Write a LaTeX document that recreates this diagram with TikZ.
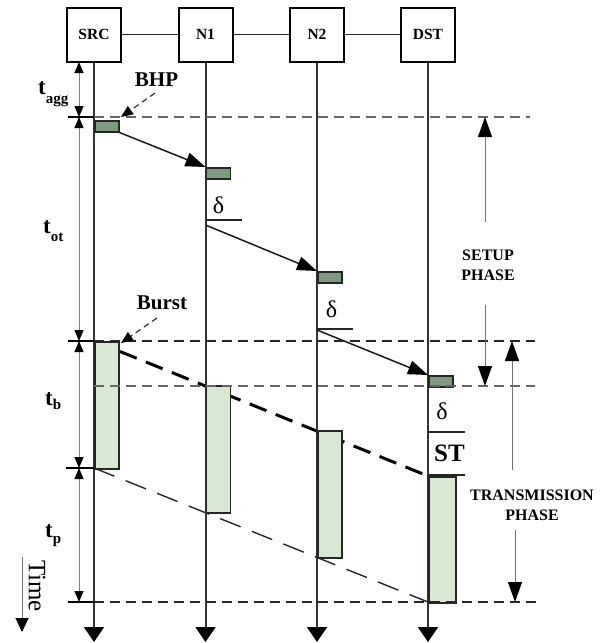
\documentclass[tikz,border=0pt]{standalone}
\usepackage{fontspec}
\setmainfont{Liberation Serif}
\usetikzlibrary{arrows.meta}
\definecolor{bhpfill}{RGB}{125,155,125}
\definecolor{burstfill}{RGB}{217,232,211}
\newcommand{\dimlab}[2]{{\fontsize{23}{23}\selectfont t}\raisebox{-#2pt}{\fontsize{15}{15}\selectfont #1}}
\begin{document}
\begin{tikzpicture}[x=1pt,y=-1pt,
  hostbox/.style={draw=black, line width=2pt, minimum width=54pt, minimum height=54pt, inner sep=0pt, font=\fontsize{15.5}{18}\selectfont\bfseries},
  link/.style={line width=1.5pt, draw=black!85},
  timeline/.style={line width=2pt, draw=black!80, -{Triangle[width=20pt,length=15pt,color=black]}},
  thindash/.style={draw=black!60, line width=1.2pt, dash pattern=on 10pt off 6pt},
  thickdash/.style={draw=black!85, line width=2pt, dash pattern=on 10pt off 6pt},
  tick/.style={draw=black, line width=1.5pt},
  dimline/.style={draw=black!50, line width=1pt, {Triangle[width=9pt,length=11pt,color=black]}-{Triangle[width=9pt,length=11pt,color=black]}},
  dimtext/.style={anchor=base west, inner sep=0pt, font=\bfseries},
  bhp/.style={draw=black!85, line width=1.5pt, fill=bhpfill, anchor=north west, minimum width=24pt, minimum height=11pt, inner sep=0pt},
  burst/.style={draw=black!85, line width=1.5pt, fill=burstfill, anchor=north west, minimum width=24pt, minimum height=127pt, inner sep=0pt},
  msg/.style={draw=black!90, line width=1.5pt, -{Triangle[width=14pt,length=20pt,color=black]}},
  lead/.style={draw=black, line width=3pt, dash pattern=on 18pt off 10pt},
  trail/.style={draw=black!85, line width=1.4pt, dash pattern=on 22pt off 12pt},
  pointer/.style={draw=black!80, line width=1.2pt, dash pattern=on 6pt off 4pt, -{Triangle[width=10pt,length=12pt,color=black]}},
  biglabel/.style={inner sep=0pt, font=\fontsize{21}{21}\selectfont\bfseries},
  deltalab/.style={inner sep=0pt, font=\fontsize{24}{24}\selectfont},
  sep/.style={draw=black!85, line width=1.5pt},
  phase/.style={inner sep=0pt, align=center, font=\fontsize{16}{20}\selectfont\bfseries},
  phasearrow/.style={draw=black!55, line width=1pt, -{Triangle[width=14pt,length=20pt,color=black]}},
  timearrow/.style={draw=black!55, line width=1pt, -{Triangle[width=13pt,length=14pt,color=black]}}
]
\useasboundingbox (0,0) rectangle (607,643);

% hosts
\node[hostbox] (SRC) at (94,34.5) {SRC};
\node[hostbox] (N1) at (205.5,34.5) {N1};
\node[hostbox] (N2) at (317,34.5) {N2};
\node[hostbox] (DST) at (428,34.5) {DST};
\draw[link] (SRC) -- (N1);
\draw[link] (N1) -- (N2);
\draw[link] (N2) -- (DST);

% burst edges
\coordinate (l0) at (94,341); \coordinate (l3) at (428,476);
\coordinate (r0) at (94,468); \coordinate (r3) at (428,602);
\draw[lead] (l0) -- (l3);
\draw[trail] (r0) -- (r3);

% timelines
\coordinate (eSRC) at (94,642);
\coordinate (eN1) at (205.5,642);
\coordinate (eN2) at (317,642);
\coordinate (eDST) at (428,642);
\draw[timeline] (SRC.south) -- (eSRC);
\draw[timeline] (N1.south) -- (eN1);
\draw[timeline] (N2.south) -- (eN2);
\draw[timeline] (DST.south) -- (eDST);

% BHP boxes and control messages
\node[bhp] (b0) at (94,120) {};
\node[bhp] (b1) at (205.5,167) {};
\node[bhp] (b2) at (317,271) {};
\node[bhp] (b3) at (428,375) {};
\coordinate (s1) at (205.5,225);
\coordinate (s2) at (317,330);
\draw[msg] (b0.south east) -- (b1.north west);
\draw[msg] (s1) -- (b2.north west);
\draw[msg] (s2) -- (b3.north west);

% offset delta markers
\node[deltalab] (del1) at (218.5,205) {δ};
\node[deltalab] (del2) at (331.5,309) {δ};
\node[deltalab] (del3) at (442,411.5) {δ};
\node[inner sep=0pt, font=\fontsize{25}{25}\selectfont\bfseries] (st) at (449.5,453) {ST};
\coordinate (u1a) at (205.5,220); \coordinate (u1b) at (242,220);
\coordinate (u2a) at (317,329);   \coordinate (u2b) at (353,329);
\coordinate (u3a) at (428,432);   \coordinate (u3b) at (465,432);
\coordinate (u4a) at (428,475);   \coordinate (u4b) at (465,475);
\draw[sep] (u1a) -- (u1b);
\draw[sep] (u2a) -- (u2b);
\draw[sep] (u3a) -- (u3b);
\draw[sep] (u4a) -- (u4b);

% bursts
\node[burst] (B0) at (94,341) {};
\node[burst] (B1) at (205.5,385) {};
\node[burst] (B2) at (317,430) {};
\node[burst, minimum width=27pt, minimum height=126pt] (B3) at (428,476) {};

% horizontal reference lines (drawn over the bursts)
\coordinate (h1a) at (94,117);  \coordinate (h1b) at (530,117);
\coordinate (h2a) at (94,341);  \coordinate (h2b) at (535,341);
\coordinate (h3a) at (94,386);  \coordinate (h3b) at (535,386);
\coordinate (h4a) at (94,602);  \coordinate (h4b) at (537,602);
\draw[thindash] (h1a) -- (h1b);
\draw[thickdash] (h2a) -- (h2b);
\draw[thindash] (h3a) -- (h3b);
\draw[thickdash] (h4a) -- (h4b);

% dimension ticks and lines
\coordinate (k1a) at (68,117); \coordinate (k1b) at (94,117);
\coordinate (k2a) at (68,341); \coordinate (k2b) at (94,341);
\coordinate (k3a) at (66,468); \coordinate (k3b) at (94,468);
\coordinate (k4a) at (68,602); \coordinate (k4b) at (94,602);
\draw[tick] (k1a) -- (k1b);
\draw[tick] (k2a) -- (k2b);
\draw[tick] (k3a) -- (k3b);
\draw[tick] (k4a) -- (k4b);
\coordinate (d0) at (79,62);
\coordinate (d1) at (79,117);
\coordinate (d2) at (79,341);
\coordinate (d3) at (79,468);
\coordinate (d4) at (79,602);
\draw[dimline] (d0) -- (d1);
\draw[dimline] (d1) -- (d2);
\draw[dimline] (d2) -- (d3);
\draw[dimline] (d3) -- (d4);
\node[dimtext] (tagg) at (38,94) {\dimlab{agg}{9}};
\node[dimtext] (tot) at (43,233) {\dimlab{ot}{8}};
\node[dimtext] (tb) at (45,405) {\dimlab{b}{4}};
\node[dimtext] (tp) at (45,537) {\dimlab{p}{6}};

% labels with pointers
\node[biglabel] (bhplab) at (156.5,80) {BHP};
\node[biglabel] (burstlab) at (162,303) {Burst};
\coordinate (p0) at (155,93);
\coordinate (p1) at (121,117);
\coordinate (q0) at (157,318);
\coordinate (p2) at (121,343);
\draw[pointer] (p0) -- (p1);
\draw[pointer] (q0) -- (p2);

% phases
\node[phase] (setup) at (488,265) {SETUP\\PHASE};
\node[phase] (trans) at (532,505) {TRANSMISSION\\PHASE};
\coordinate (sa0) at (485,222); \coordinate (sa1) at (485,117);
\coordinate (sb0) at (485,305); \coordinate (sb1) at (485,386);
\coordinate (ta0) at (512,470); \coordinate (ta1) at (512,341);
\coordinate (tb0) at (515,530); \coordinate (tb1) at (515,602);
\draw[phasearrow] (sa0) -- (sa1);
\draw[phasearrow] (sb0) -- (sb1);
\draw[phasearrow] (ta0) -- (ta1);
\draw[phasearrow] (tb0) -- (tb1);

% time axis
\node[rotate=-90, inner sep=0pt, font=\fontsize{25}{25}\selectfont] (timelab) at (37,586) {Time};
\coordinate (tm0) at (22,557); \coordinate (tm1) at (22,632);
\draw[timearrow] (tm0) -- (tm1);
\end{tikzpicture}
\end{document}
